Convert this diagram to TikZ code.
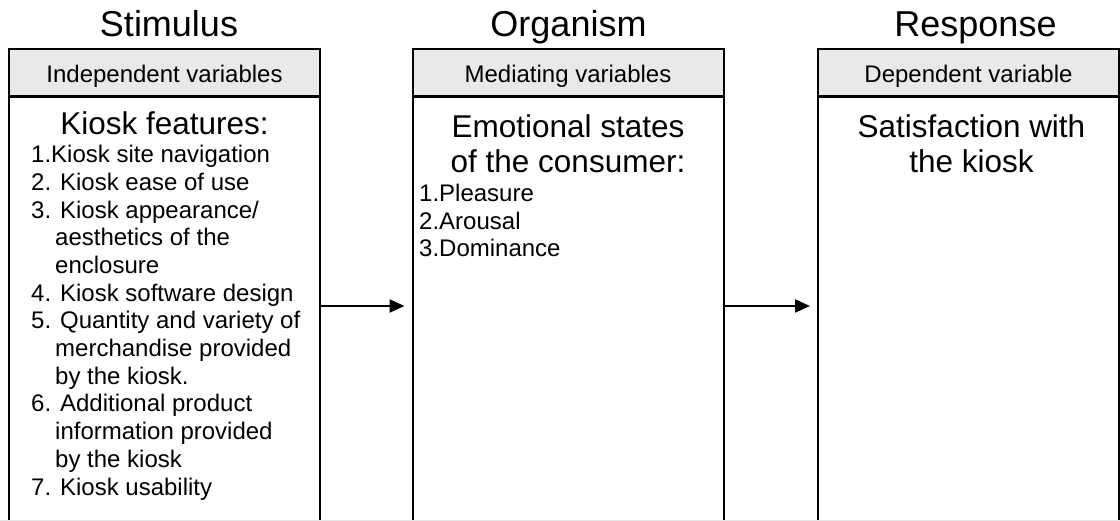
\documentclass[tikz,border=0pt]{standalone}
\usepackage{fontspec}
\setmainfont{Liberation Sans}
\usetikzlibrary{arrows.meta}

\begin{document}
\begin{tikzpicture}[x=1pt,y=-1pt,
	titel/.style={font=\fontsize{36}{40}\selectfont,anchor=base,inner sep=0pt},
	kopf/.style={draw,line width=2pt,fill=gray!17,minimum width=311pt,minimum height=47pt,
		inner sep=0pt,text height=26pt,text depth=5pt,font=\fontsize{24}{28}\selectfont},
	kasten/.style={draw,line width=2pt,minimum width=311pt,minimum height=434pt,anchor=north,inner sep=0pt},
	gross/.style={font=\fontsize{31.5}{35.5}\selectfont,align=center,inner sep=0pt,anchor=base},
	liste/.style={font=\fontsize{24}{27.7}\selectfont,align=left,inner sep=0pt,anchor=base west},
	pfeil/.style={line width=2.2pt,-{Triangle[length=15pt,width=13pt]},shorten >=7pt}]
	% Seite 1120 x 521
	\useasboundingbox (0,0) rectangle (1120,521);
	
	% Spaltentitel
	\node[titel] (stimulus) at (169,37) {Stimulus};
	\node[titel] (organismus) at (568.5,37) {Organism};
	\node[titel] (reaktion) at (975.5,37) {Response};
	
	% Kaesten
	\node[kasten] (links) at (164.5,96) {};
	\node[kasten] (mitte) at (568,96) {};
	\node[kasten,minimum width=301pt] (rechts) at (968.5,96) {};
	
	% Kopfzeilen
	\node[kopf] (unabh) at (164.5,72.5) {Independent variables};
	\node[kopf] (vermittl) at (568,72.5) {Mediating variables};
	\node[kopf,minimum width=301pt] (abh) at (968.5,72.5) {Dependent variable};
	
	% Inhalt links (Anker = Grundlinie der letzten Zeile)
	\node[gross] (kiosk) at (164.5,135) {Kiosk features:};
	\node[liste] (merkmale) at (31,495) {1.Kiosk site navigation\\
		2. Kiosk ease of use\\
		3. Kiosk appearance/\\
		\hspace*{24pt}aesthetics of the\\
		\hspace*{24pt}enclosure\\
		4. Kiosk software design\\
		5. Quantity and variety of\\
		\hspace*{24pt}merchandise provided\\
		\hspace*{24pt}by the kiosk.\\
		6. Additional product\\
		\hspace*{24pt}information provided\\
		\hspace*{24pt}by the kiosk\\
		7. Kiosk usability};
	
	% Inhalt Mitte
	\node[gross] (emotion) at (568,173) {Emotional states\\of the consumer:};
	\node[liste] (zustand) at (419,257) {1.Pleasure\\2.Arousal\\3.Dominance};
	
	% Inhalt rechts
	\node[gross] (zufrieden) at (971.5,173) {Satisfaction with\\the kiosk};
	
	% Pfeile
	\draw[pfeil] ([yshift=8pt]links.east) -- ([yshift=8pt]mitte.west);
	\draw[pfeil] ([yshift=8pt]mitte.east) -- ([yshift=8pt]rechts.west);
	
	% Seitenrand unten
	\draw[gray!20,line width=1pt] (0,520) -- (1120,520);
\end{tikzpicture}
\end{document}
